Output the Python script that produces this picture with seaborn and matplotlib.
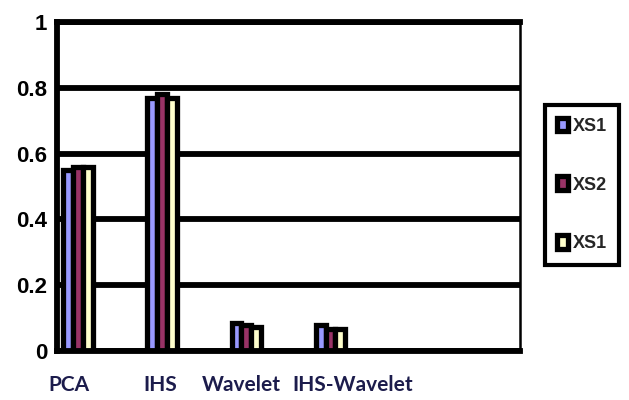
import matplotlib
matplotlib.use("Agg")
import matplotlib.pyplot as plt
import matplotlib.transforms as mtransforms
import numpy as np
import pandas as pd
import seaborn as sns

# Fusion methods and the score of each band set
methods = ["PCA", "IHS", "Wavelet", "IHS-Wavelet"]
xs1_a = [0.55, 0.77, 0.085, 0.080]
xs2 = [0.56, 0.78, 0.078, 0.068]
xs1_b = [0.56, 0.77, 0.072, 0.066]

series_keys = ["XS1 a", "XS2", "XS1 b"]
series_labels = ["XS1", "XS2", "XS1"]
series_colors = ["#9999FF", "#993366", "#FFFFCC"]

y_ticks = [0, 0.2, 0.4, 0.6, 0.8, 1.0]
y_tick_labels = ["0", "0.2", "0.4", "0.6", "0.8", "1"]

# category axis: methods sit on every other slot, remaining slots stay empty
n_slots = 11
slot_order = []
m_iter = iter(methods)
for i in range(n_slots):
    if i % 2 == 0 and i // 2 < len(methods):
        slot_order.append(next(m_iter))
    else:
        slot_order.append(f"slot {i}")

df = pd.DataFrame({
    "method": methods * 3,
    "series": [k for k in series_keys for _ in methods],
    "value": xs1_a + xs2 + xs1_b,
})

sns.set_style("white")
plt.rcParams["font.family"] = ["Liberation Sans", "DejaVu Sans"]

fig = plt.figure(figsize=(6.29, 4.0), dpi=100)
ax = fig.add_axes([0.0906, 0.1225, 0.7361, 0.8225])

sns.barplot(
    data=df, x="method", y="value", hue="series",
    order=slot_order, hue_order=series_keys, palette=series_colors,
    width=0.7, edgecolor="black", linewidth=3.8, saturation=1,
    errorbar=None, legend=False, ax=ax,
)

ax.set_xlim(-0.5, n_slots - 0.5)
ax.set_ylim(0, 1.0)
ax.set_xlabel("")
ax.set_ylabel("")

# heavy black horizontal gridlines behind the bars
ax.set_axisbelow(True)
ax.yaxis.grid(True, color="black", linewidth=4.2)
ax.xaxis.grid(False)

for side in ["left", "bottom", "top"]:
    ax.spines[side].set_visible(True)
    ax.spines[side].set_color("black")
    ax.spines[side].set_linewidth(4.2)
ax.spines["right"].set_visible(True)
ax.spines["right"].set_color("black")
ax.spines["right"].set_linewidth(1.8)

ax.set_yticks(y_ticks)
ax.set_yticklabels(y_tick_labels, fontsize=16, fontweight="bold")
ax.tick_params(axis="y", direction="out", length=4, width=3, pad=3, colors="black")

# tick marks between categories, labels drawn separately
ax.set_xticks(np.arange(-0.5, n_slots, 1.0))
ax.tick_params(axis="x", direction="out", length=7, width=2.5, labelbottom=False, colors="black")

label_shift_px = [-9, -2, -5, 22]
base = mtransforms.blended_transform_factory(ax.transData, ax.transAxes)
for name, dx in zip(methods, label_shift_px):
    tr = mtransforms.offset_copy(base, fig=fig, x=dx, y=0, units="dots")
    ax.text(slot_order.index(name), -0.103, name, transform=tr,
            ha="center", va="center", fontsize=15, fontweight="bold",
            color="#1c1c4c", family=["Lato", "DejaVu Sans"])

handles = [c.patches[0] for c in ax.containers]
leg = ax.legend(
    handles, series_labels, loc="upper left",
    bbox_to_anchor=(0.866, 0.7375), bbox_transform=fig.transFigure,
    fontsize=13, frameon=True, fancybox=False, framealpha=1,
    edgecolor="black", borderpad=0.7, labelspacing=2.3,
    handlelength=0.6, handleheight=0.8, handletextpad=0.25,
    borderaxespad=0,
)
leg.get_frame().set_linewidth(3)
for t in leg.get_texts():
    t.set_fontweight("bold")

fig.savefig("out.png", dpi=100)
